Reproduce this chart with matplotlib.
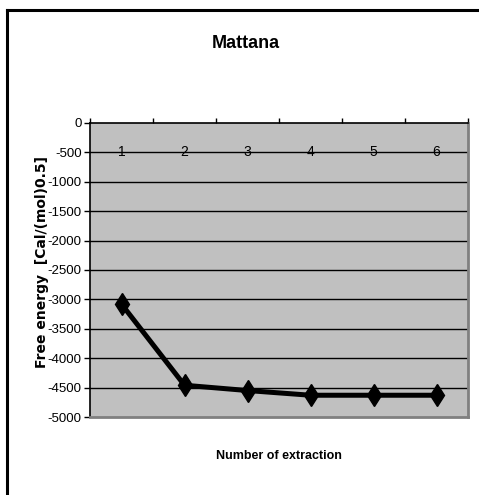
import matplotlib
matplotlib.use("Agg")
import matplotlib.pyplot as plt
from matplotlib import font_manager
from matplotlib.lines import Line2D
import matplotlib.transforms as mtransforms

categories = ["1", "2", "3", "4", "5", "6"]
free_energy = [-3080, -4460, -4550, -4630, -4630, -4630]
y_ticks = [0, -500, -1000, -1500, -2000, -2500, -3000, -3500, -4000, -4500, -5000]
title = "Mattana"
x_label = "Number of extraction"
y_label = "Free energy  [Cal/(mol)0.5]"

names = {f.name for f in font_manager.fontManager.ttflist}
narrow = "Liberation Sans Narrow" if "Liberation Sans Narrow" in names else "Liberation Sans"

fig = plt.figure(figsize=(4.79, 4.95), dpi=100)
W, H = 479, 495
ax = fig.add_axes([90 / W, 1 - 417 / H, 378 / W, 294 / H])
ax.set_facecolor("#C0C0C0")

xs = [i + 0.5 for i in range(len(categories))]
ax.plot(xs, free_energy, color="black", lw=3.6, marker="d", markersize=11.5,
        markerfacecolor="black", markeredgecolor="black", zorder=5, clip_on=False)

ax.set_xlim(0, len(categories))
ax.set_ylim(min(y_ticks), max(y_ticks))
ax.set_yticks(y_ticks)
ax.set_yticklabels([str(v) for v in y_ticks], fontfamily=narrow, fontsize=9.5)
ax.tick_params(axis="y", direction="out", length=4, width=1, color="black", pad=2)

for v in y_ticks[1:-1]:
    ax.axhline(v, color="black", lw=1.0, zorder=1)

ax.xaxis.set_ticks_position("top")
ax.set_xticks(range(len(categories) + 1))
ax.set_xticklabels([])
ax.tick_params(axis="x", direction="out", length=3.5, width=1, color="black")

trans = mtransforms.blended_transform_factory(ax.transData, ax.transAxes)
off = mtransforms.ScaledTranslation(0, -29 / 100, fig.dpi_scale_trans)
for x, c in zip(xs, categories):
    ax.text(x, 1.0, c, transform=trans + off, ha="center", va="center",
            fontfamily=narrow, fontsize=10, zorder=6)

ax.spines["top"].set_color("black")
ax.spines["top"].set_linewidth(1.2)
ax.spines["left"].set_color("black")
ax.spines["left"].set_linewidth(1.2)
ax.spines["right"].set_color("#808080")
ax.spines["right"].set_linewidth(2)
ax.spines["bottom"].set_color("#808080")
ax.spines["bottom"].set_linewidth(2)

fig.text(246 / W, 1 - 44 / H, title, ha="center", va="center",
         fontfamily=narrow, fontweight="bold", fontsize=13)
fig.text(279 / W, 1 - 456 / H, x_label, ha="center", va="center",
         fontfamily=narrow, fontweight="bold", fontsize=9)
fig.text(42 / W, 1 - 262 / H, y_label, ha="center", va="center", rotation=90,
         fontfamily="DejaVu Sans", fontweight="bold", fontsize=10)

fig.add_artist(Line2D([7 / W, 7 / W], [0, 1 - 10 / H], transform=fig.transFigure,
                      color="black", lw=2.2))
fig.add_artist(Line2D([7 / W, 1], [1 - 10 / H, 1 - 10 / H], transform=fig.transFigure,
                      color="black", lw=2.2))

fig.savefig("out.png", dpi=100, facecolor="white")
